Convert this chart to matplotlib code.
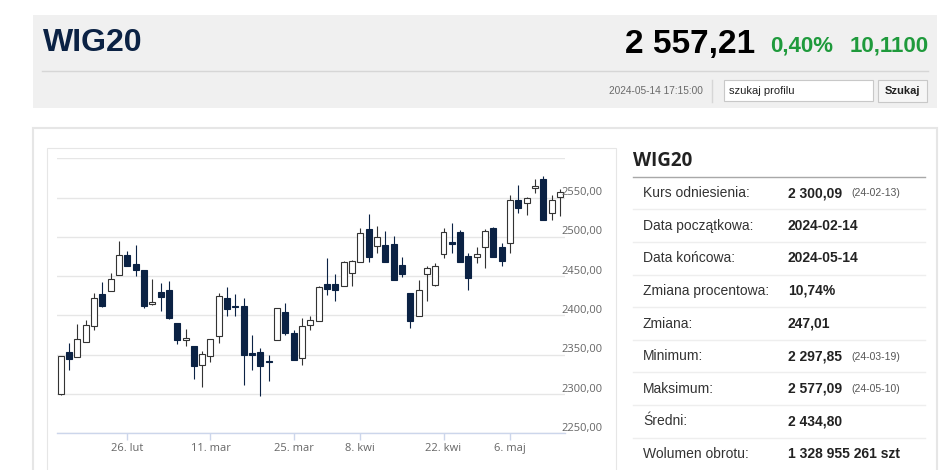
import numpy as np
import matplotlib.pyplot as plt
from matplotlib.patches import Rectangle
from matplotlib.transforms import blended_transform_factory, offset_copy

# WIG20 daily candles, 2024-02-14 .. 2024-05-14
dates = ["02-14", "02-15", "02-16", "02-19", "02-20", "02-21", "02-22", "02-23", "02-26", "02-27",
         "02-28", "02-29", "03-01", "03-04", "03-05", "03-06", "03-07", "03-08", "03-11", "03-12",
         "03-13", "03-14", "03-15", "03-18", "03-19", "03-20", "03-21", "03-22", "03-25", "03-26",
         "03-27", "03-28", "04-02", "04-03", "04-04", "04-05", "04-08", "04-09", "04-10", "04-11",
         "04-12", "04-15", "04-16", "04-17", "04-18", "04-19", "04-22", "04-23", "04-24", "04-25",
         "04-26", "04-29", "04-30", "05-02", "05-06", "05-07", "05-08", "05-09", "05-10", "05-13",
         "05-14"]
opens = [2300.1, 2353.8, 2346.6, 2365.7, 2386.9, 2426.7, 2431.3, 2452.1, 2476.3, 2465.7,
         2457.6, 2414.0, 2430.1, 2432.6, 2390.2, 2369.1, 2360.6, 2336.9, 2347.9, 2373.3,
         2422.4, 2412.3, 2411.9, 2352.1, 2353.0, 2342.4, 2369.1, 2404.2, 2377.5, 2345.8,
         2388.1, 2392.4, 2439.8, 2439.8, 2437.7, 2453.8, 2468.6, 2510.2, 2488.6, 2490.2,
         2491.5, 2464.4, 2428.0, 2399.6, 2452.5, 2439.0, 2478.4, 2494.0, 2506.8, 2475.8,
         2474.1, 2486.9, 2511.0, 2486.9, 2492.8, 2546.6, 2542.8, 2561.8, 2573.7, 2530.1,
         2550.5]
highs = [2349.0, 2364.8, 2389.4, 2394.5, 2428.4, 2442.4, 2453.8, 2494.9, 2482.2, 2489.4,
         2457.6, 2446.2, 2441.1, 2443.6, 2390.2, 2382.6, 2360.6, 2354.2, 2369.9, 2428.4,
         2435.6, 2427.1, 2422.0, 2375.4, 2358.5, 2350.0, 2409.3, 2415.7, 2380.9, 2396.6,
         2398.7, 2438.1, 2472.9, 2452.5, 2469.9, 2470.7, 2511.0, 2528.8, 2514.0, 2508.0,
         2501.3, 2475.0, 2428.0, 2445.3, 2462.3, 2466.5, 2511.0, 2517.4, 2508.9, 2479.2,
         2486.9, 2509.7, 2512.3, 2492.8, 2553.4, 2566.1, 2550.5, 2573.3, 2577.1, 2553.4,
         2560.6]
lows = [2299.0, 2330.9, 2346.6, 2365.7, 2380.9, 2410.2, 2431.3, 2451.3, 2463.1, 2450.4,
        2409.3, 2412.7, 2405.1, 2395.3, 2364.0, 2360.6, 2319.1, 2308.9, 2340.3, 2364.8,
        2398.7, 2399.6, 2311.0, 2330.9, 2297.9, 2316.1, 2369.1, 2375.4, 2342.8, 2337.3,
        2381.8, 2392.4, 2425.4, 2418.6, 2436.9, 2436.9, 2468.6, 2467.4, 2479.2, 2467.8,
        2445.3, 2448.7, 2383.9, 2399.6, 2417.8, 2436.9, 2473.7, 2479.2, 2467.8, 2432.6,
        2466.5, 2460.2, 2474.1, 2463.1, 2479.2, 2530.1, 2528.0, 2555.5, 2521.6, 2521.6,
        2526.7]
closes = [2347.9, 2344.9, 2369.9, 2388.1, 2422.0, 2411.4, 2447.0, 2476.3, 2463.5, 2457.6,
          2411.4, 2417.4, 2424.1, 2396.6, 2368.2, 2371.6, 2336.0, 2351.3, 2369.9, 2425.0,
          2408.0, 2410.2, 2350.0, 2350.0, 2336.0, 2341.1, 2409.3, 2377.5, 2343.6, 2386.9,
          2393.6, 2435.6, 2433.9, 2432.6, 2467.8, 2469.9, 2505.5, 2475.0, 2499.6, 2467.8,
          2445.3, 2452.5, 2392.4, 2431.8, 2460.2, 2463.1, 2506.8, 2491.1, 2467.8, 2447.4,
          2478.4, 2507.6, 2475.0, 2469.9, 2547.0, 2536.4, 2549.2, 2564.8, 2521.6, 2547.1,
          2557.2]

tick_dates = ["02-26", "03-11", "03-25", "04-08", "04-22", "05-06"]
tick_labels = ["26. lut", "11. mar", "25. mar", "8. kwi", "22. kwi", "6. maj"]
y_ticks = [2250, 2300, 2350, 2400, 2450, 2500, 2550, 2600]
y_labels = ["2250,00", "2300,00", "2350,00", "2400,00", "2450,00", "2500,00", "2550,00", ""]

stats_labels = ["Kurs odniesienia:", "Data początkowa:", "Data końcowa:", "Zmiana procentowa:",
                "Zmiana:", "Minimum:", "Maksimum:", "Średni:", "Wolumen obrotu:"]
stats_values = ["2 300,09", "2024-02-14", "2024-05-14", "10,74%", "247,01",
                "2 297,85", "2 577,09", "2 434,80", "1 328 955 261 szt"]
stats_dates = ["(24-02-13)", "", "", "", "", "(24-03-19)", "(24-05-10)", "", ""]

NAVY = "#0b2244"
GREEN = "#1f9a3c"
SANS = ["Liberation Sans", "DejaVu Sans"]
OPEN = ["Open Sans", "DejaVu Sans"]

W, H = 948, 470
fig = plt.figure(figsize=(W / 100, H / 100), dpi=100)
fig.patch.set_facecolor("white")

# page background drawn in pixel coordinates
bg = fig.add_axes([0, 0, 1, 1])
bg.set_xlim(0, W)
bg.set_ylim(H, 0)
bg.axis("off")

# header box
bg.add_patch(Rectangle((33, 15), 904, 93, facecolor="#f0f0f0", edgecolor="none"))
bg.plot([42, 928], [71, 71], color="#d6d6d6", lw=1)
bg.text(43, 43, "WIG20", fontsize=23, weight="bold", color=NAVY, family=SANS, va="center")
bg.text(755, 44, "2 557,21", fontsize=24, weight="bold", color="black", family=SANS,
        va="center", ha="right")
bg.text(770, 46, "0,40%", fontsize=16, weight="bold", color=GREEN, family=SANS, va="center")
bg.text(929, 46, "10,1100", fontsize=16, weight="bold", color=GREEN, family=SANS,
        va="center", ha="right")
bg.text(703, 91, "2024-05-14 17:15:00", fontsize=7.3, color="#6a6a6a", family=SANS,
        va="center", ha="right")
bg.plot([712, 712], [80, 102], color="#d6d6d6", lw=1)
bg.add_patch(Rectangle((724, 80), 149, 21, facecolor="white", edgecolor="#c8c8c8", lw=0.8))
bg.text(729, 90.5, "szukaj profilu", fontsize=8, color="#222222", family=SANS, va="center")
bg.add_patch(Rectangle((878, 80), 49, 22, facecolor="#f6f6f6", edgecolor="#c8c8c8", lw=0.8))
bg.text(902.5, 91, "Szukaj", fontsize=8, weight="bold", color="#222222", family=SANS,
        va="center", ha="center")

# content boxes
bg.add_patch(Rectangle((33, 128), 904, 360, facecolor="white", edgecolor="#e6e6e6", lw=1.5))
bg.add_patch(Rectangle((47, 148), 569, 340, facecolor="white", edgecolor="#e6e6e6", lw=0.8))

# statistics table
bg.text(633, 161, "WIG20", fontsize=13.5, weight="bold", color="#222222", family=OPEN,
        va="center")
bg.plot([633, 925], [177, 177], color="#a8a8a8", lw=1)
row_y = np.linspace(193, 454, len(stats_labels))
for i, (lab, val, dt) in enumerate(zip(stats_labels, stats_values, stats_dates)):
    y = row_y[i]
    bg.text(643, y, lab, fontsize=10, color="#333333", family=SANS, va="center")
    bg.text(788, y, val, fontsize=10, weight="bold", color="#222222", family=SANS,
            va="center")
    if dt:
        bg.text(851, y + 0.5, dt, fontsize=7.5, color="#555555", family=SANS, va="center")
    if i < len(stats_labels) - 1:
        ys = (row_y[i] + row_y[i + 1]) / 2
        bg.plot([633, 925], [ys, ys], color="#eeeeee", lw=1)

# candlestick chart
ax = fig.add_axes([56.7 / W, (H - 433.3) / H, (565 - 56.7) / W, (433.3 - 158.3) / H])
ax.set_facecolor("none")
x = np.arange(len(dates))
o = np.array(opens)
c = np.array(closes)
up = c >= o
face = np.where(up, "white", NAVY)
edge = np.where(up, "#333333", NAVY)

ax.vlines(x, lows, highs, colors=edge, lw=0.8, zorder=2)
body_lo = np.minimum(o, c)
body_h = np.maximum(np.abs(c - o), 0.6)
ax.bar(x, body_h, bottom=body_lo, width=0.72, color=face, edgecolor=edge, lw=0.8, zorder=3)

ax.set_xlim(-0.48, 60.6)
ax.set_ylim(2250, 2600)
ax.set_yticks(y_ticks)
ax.yaxis.set_ticklabels([])
ax.tick_params(axis="y", length=0)
ax.grid(axis="y", color="#e6e6e6", lw=1)
ax.set_axisbelow(True)
for s in ["top", "left", "right"]:
    ax.spines[s].set_visible(False)
ax.spines["bottom"].set_color("#ccd6eb")
ax.spines["bottom"].set_linewidth(1)

tpos = [dates.index(d) for d in tick_dates]
ax.set_xticks(tpos)
ax.set_xticklabels(tick_labels, fontsize=8, color="#666666", family=OPEN)
ax.tick_params(axis="x", length=5, color="#ccd6eb", width=1, pad=2)

trans = blended_transform_factory(ax.transAxes, ax.transData)
trans = offset_copy(trans, fig=fig, x=-4, y=5, units="dots")
for v, lab in zip(y_ticks, y_labels):
    ax.text(1.0, v, lab, transform=trans, fontsize=8, color="#666666", va="center",
            ha="left", family=OPEN, zorder=4, clip_on=False)

fig.savefig("out.png", dpi=100, facecolor="white")
